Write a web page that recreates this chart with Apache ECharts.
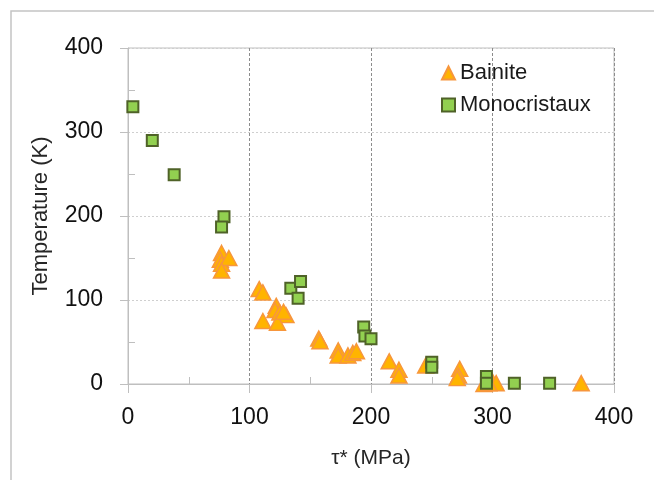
<!DOCTYPE html>
<html>
<head>
<meta charset="utf-8">
<script src="https://cdn.jsdelivr.net/npm/echarts@6/dist/echarts.min.js"></script>
<style>
html,body{margin:0;padding:0;background:#fff;}
#chart{width:654px;height:480px;}
</style>
</head>
<body>
<div id="chart"></div>
<script>
// Data
const seriesNames = ["Bainite", "Monocristaux"];
const bainiteTau = [77, 76, 77, 83, 77, 108, 111, 111, 122, 121, 125, 130, 123, 128, 157, 158, 173, 173, 181, 185, 188, 215, 223, 223, 245, 273, 272, 271, 293, 300, 303, 297, 373];
const bainiteT   = [156, 148, 143, 150, 135, 113, 109, 75, 93, 88, 85, 82, 73, 86, 54, 51, 40, 34, 34, 37, 39, 27, 17, 10, 22, 18, 10, 7, 0, 3, 1, 1, 1];
const monoTau = [4, 20, 38, 79, 77, 134, 142, 140, 194, 195, 200, 250, 250, 295, 295, 318, 347];
const monoT   = [330, 290, 249, 199, 187, 114, 122, 102, 68, 57, 54, 26, 20, 9, 1, 1, 1];
const xTicks = [0, 100, 200, 300, 400];
const yTicks = [0, 100, 200, 300, 400];
const minorTicks = [50, 150, 250, 350];

const font = "'Liberation Sans', Arial, sans-serif";
const chart = echarts.init(document.getElementById('chart'), null, {renderer: 'canvas'});

function pairs(xs, ys) { return xs.map((x, i) => [x, ys[i]]); }

const axisLineColor = '#bfbfbf';

chart.setOption({
  animation: false,
  backgroundColor: '#ffffff',
  graphic: [{
    type: 'rect',
    shape: {x: 11, y: 11, width: 700, height: 520},
    style: {fill: 'none', stroke: '#c4c4c4', lineWidth: 1.5},
    silent: true, z: -10
  }],
  grid: {left: 128, right: 40, top: 48, bottom: 96, show: true, borderColor: '#bfbfbf', borderWidth: 1, backgroundColor: 'transparent'},
  legend: {
    orient: 'vertical', left: 436, top: 57, itemGap: 10,
    itemWidth: 13, itemHeight: 13,
    textStyle: {fontFamily: font, fontSize: 22, color: '#1a1a1a', padding: [0,0,0,0]},
    data: seriesNames
  },
  xAxis: [{
    type: 'value', min: 0, max: 400, interval: 100,
    name: 'τ* (MPa)', nameLocation: 'middle', nameGap: 64,
    nameTextStyle: {fontFamily: font, fontSize: 21, color: '#262626'},
    axisLine: {show: true, onZero: false, lineStyle: {color: axisLineColor, width: 1}},
    axisTick: {show: true, inside: false, length: 9, lineStyle: {color: axisLineColor}},
    axisLabel: {fontFamily: font, fontSize: 23, color: '#111', margin: 22,
      formatter: v => xTicks.includes(v) ? String(v) : ''},
    splitLine: {show: true, lineStyle: {color: '#8c8c8c', type: [3, 2], width: 1}}
  }, {
    type: 'value', min: 0, max: 400, position: 'bottom',
    axisLine: {show: false}, axisLabel: {show: false}, splitLine: {show: false},
    axisTick: {show: true, inside: true, length: 7, customValues: minorTicks, lineStyle: {color: axisLineColor}}
  }],
  yAxis: [{
    type: 'value', min: 0, max: 400, interval: 100,
    name: 'Temperature (K)', nameLocation: 'middle', nameGap: 76,
    nameTextStyle: {fontFamily: font, fontSize: 22, color: '#262626'},
    axisLine: {show: true, onZero: false, lineStyle: {color: axisLineColor, width: 1}},
    axisTick: {show: true, inside: false, length: 8, lineStyle: {color: axisLineColor}},
    axisLabel: {fontFamily: font, fontSize: 23, color: '#111', margin: 25,
      formatter: v => yTicks.includes(v) ? String(v) : ''},
    splitLine: {show: true, lineStyle: {color: '#cfcfcf', type: [2, 2], width: 1}}
  }, {
    type: 'value', min: 0, max: 400, position: 'left',
    axisLine: {show: false}, axisLabel: {show: false}, splitLine: {show: false},
    axisTick: {show: true, inside: true, length: 7, customValues: minorTicks, lineStyle: {color: axisLineColor}}
  }],
  series: [{
    name: seriesNames[0], type: 'scatter',
    symbol: 'triangle', symbolSize: [16, 15],
    itemStyle: {color: '#FFB400', borderColor: '#F7963C', borderWidth: 1.5, opacity: 1},
    data: pairs(bainiteTau, bainiteT), z: 3
  }, {
    name: seriesNames[1], type: 'scatter',
    symbol: 'rect', symbolSize: 11,
    itemStyle: {color: '#92D050', borderColor: '#4F6228', borderWidth: 2, opacity: 1},
    data: pairs(monoTau, monoT), z: 4
  }]
});
</script>
</body>
</html>
